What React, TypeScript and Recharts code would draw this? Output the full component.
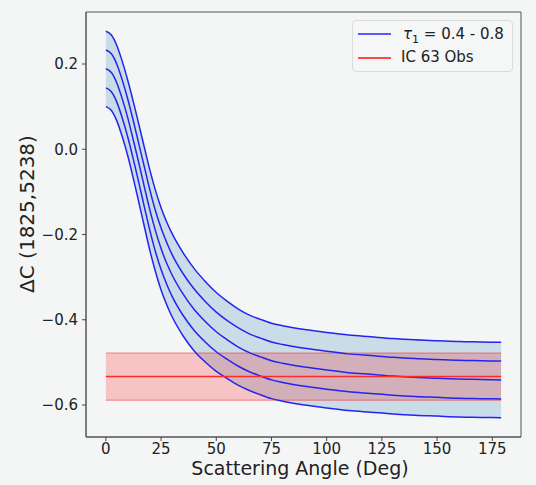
import React from "react";
import {
  ComposedChart,
  Line,
  Area,
  XAxis,
  YAxis,
  ReferenceArea,
} from "recharts";

// Scattering angle (deg)
const angles = [0, 2.5, 5, 7.5, 10, 12.5, 15, 17.5, 20, 22.5, 25, 27.5, 30, 35, 40, 45, 50, 55, 60, 65, 70, 75, 80, 90, 100, 110, 120, 130, 140, 150, 160, 170, 179];

// Model curves, tau_1 = 0.4 ... 0.8 (top to bottom)
const curve1 = [0.277, 0.268, 0.243, 0.205, 0.160, 0.110, 0.057, 0.003, -0.050, -0.097, -0.137, -0.170, -0.198, -0.243, -0.280, -0.310, -0.336, -0.357, -0.375, -0.389, -0.399, -0.408, -0.414, -0.423, -0.430, -0.436, -0.440, -0.444, -0.447, -0.449, -0.451, -0.452, -0.453];
const curve2 = [0.233, 0.224, 0.199, 0.161, 0.116, 0.065, 0.011, -0.043, -0.097, -0.145, -0.185, -0.218, -0.247, -0.292, -0.328, -0.357, -0.382, -0.402, -0.419, -0.433, -0.443, -0.452, -0.458, -0.467, -0.474, -0.480, -0.484, -0.488, -0.491, -0.493, -0.495, -0.496, -0.497];
const curve3 = [0.189, 0.180, 0.155, 0.117, 0.072, 0.020, -0.034, -0.090, -0.144, -0.192, -0.233, -0.267, -0.295, -0.340, -0.376, -0.404, -0.428, -0.447, -0.464, -0.477, -0.487, -0.496, -0.502, -0.511, -0.518, -0.524, -0.528, -0.532, -0.535, -0.537, -0.539, -0.540, -0.541];
const curve4 = [0.144, 0.135, 0.110, 0.072, 0.027, -0.025, -0.080, -0.137, -0.192, -0.241, -0.282, -0.316, -0.345, -0.390, -0.425, -0.452, -0.475, -0.493, -0.509, -0.522, -0.532, -0.541, -0.547, -0.556, -0.563, -0.569, -0.573, -0.577, -0.580, -0.582, -0.584, -0.585, -0.586];
const curve5 = [0.100, 0.091, 0.066, 0.028, -0.017, -0.070, -0.126, -0.183, -0.239, -0.288, -0.330, -0.364, -0.393, -0.438, -0.473, -0.499, -0.521, -0.538, -0.554, -0.566, -0.576, -0.585, -0.591, -0.600, -0.607, -0.613, -0.617, -0.621, -0.624, -0.626, -0.628, -0.629, -0.630];

// IC 63 observation: [low, center, high]
const obsValues = [-0.589, -0.533, -0.478];

const xTicks = [0, 25, 50, 75, 100, 125, 150, 175];
const yTicks = [-0.6, -0.4, -0.2, 0.0, 0.2];

const data = angles.map((a, i) => ({
  angle: a,
  c1: curve1[i],
  c2: curve2[i],
  c3: curve3[i],
  c4: curve4[i],
  c5: curve5[i],
  band: [curve5[i], curve1[i]],
  obsBand: [obsValues[0], obsValues[2]],
  obsLo: obsValues[0],
  obs: obsValues[1],
  obsHi: obsValues[2],
}));

const FONT = "'DejaVu Sans', sans-serif";
const BG = "#f4f5f5";
const BLUE = "#2424ee";

const fmtY = (v: number) => {
  const s = Math.abs(v).toFixed(1);
  return v < -1e-9 ? "\u2212" + s : s;
};

export default function App() {
  return (
    <div
      style={{
        position: "absolute",
        left: 0,
        top: 0,
        width: 536,
        height: 485,
        background: BG,
        fontFamily: FONT,
      }}
    >
      <ComposedChart
        width={536}
        height={485}
        data={data}
        margin={{ top: 12, right: 15, left: 0, bottom: 0 }}
      >
        <XAxis
          type="number"
          dataKey="angle"
          domain={[-9, 188]}
          ticks={xTicks}
          allowDataOverflow
          height={48}
          tickSize={4}
          tickMargin={2}
          axisLine={{ stroke: "#555" }}
          tickLine={{ stroke: "#444" }}
          tick={{ fill: "#222", fontSize: 15, fontFamily: FONT }}
        />
        <YAxis
          type="number"
          domain={[-0.675, 0.322]}
          ticks={yTicks}
          allowDataOverflow
          width={86}
          tickSize={4}
          tickMargin={4}
          tickFormatter={fmtY}
          axisLine={{ stroke: "#555" }}
          tickLine={{ stroke: "#444" }}
          tick={{ fill: "#222", fontSize: 15, fontFamily: FONT }}
        />
        <Area
          type="monotone"
          dataKey="band"
          stroke="none"
          fill="#1f77b4"
          fillOpacity={0.2}
          isAnimationActive={false}
          activeDot={false}
        />
        <Area
          type="linear"
          dataKey="obsBand"
          stroke="none"
          fill="#ff0000"
          fillOpacity={0.2}
          isAnimationActive={false}
          activeDot={false}
        />
        <Line type="linear" dataKey="obsLo" stroke="#ff0000" strokeOpacity={0.3} strokeWidth={1.5} dot={false} isAnimationActive={false} />
        <Line type="linear" dataKey="obsHi" stroke="#ff0000" strokeOpacity={0.3} strokeWidth={1.5} dot={false} isAnimationActive={false} />
        <Line type="monotone" dataKey="c1" stroke={BLUE} strokeWidth={1.5} dot={false} isAnimationActive={false} />
        <Line type="monotone" dataKey="c2" stroke={BLUE} strokeWidth={1.5} dot={false} isAnimationActive={false} />
        <Line type="monotone" dataKey="c3" stroke={BLUE} strokeWidth={1.5} dot={false} isAnimationActive={false} />
        <Line type="monotone" dataKey="c4" stroke={BLUE} strokeWidth={1.5} dot={false} isAnimationActive={false} />
        <Line type="monotone" dataKey="c5" stroke={BLUE} strokeWidth={1.5} dot={false} isAnimationActive={false} />
        <Line type="linear" dataKey="obs" stroke="#ff2a2a" strokeWidth={1.5} dot={false} isAnimationActive={false} />
        <ReferenceArea
          x1={-9}
          x2={188}
          y1={-0.675}
          y2={0.322}
          fill="none"
          stroke="#555"
          strokeWidth={1}
          ifOverflow="visible"
        />
      </ComposedChart>

      {/* Axis titles */}
      <div
        style={{
          position: "absolute",
          left: 0,
          width: 536,
          top: 456,
          paddingLeft: 70,
          boxSizing: "border-box",
          textAlign: "center",
          fontSize: 19,
          color: "#222",
          lineHeight: "24px",
          paddingRight: 0,
        }}
      >
        <span style={{ position: "relative", left: -3 }}>Scattering Angle (Deg)</span>
      </div>
      <div
        style={{
          position: "absolute",
          left: 27,
          top: 214,
          transform: "translate(-50%, -50%) rotate(-90deg)",
          whiteSpace: "nowrap",
          fontSize: 20,
          color: "#222",
          lineHeight: "24px",
        }}
      >
        ΔC (1825,5238)
      </div>

      {/* Legend */}
      <div
        style={{
          position: "absolute",
          left: 352,
          top: 20,
          width: 161,
          height: 52,
          boxSizing: "border-box",
          border: "1px solid #dcdcdc",
          borderRadius: 4,
          background: "rgba(245,246,246,0.8)",
          fontSize: 15,
          color: "#222",
        }}
      >
        <div style={{ position: "absolute", left: 5, top: 12, width: 33, height: 0, borderTop: "2px solid #5a5aff" }} />
        <div style={{ position: "absolute", left: 50, top: 3, whiteSpace: "nowrap", lineHeight: "20px" }}>
          <span style={{ fontStyle: "italic" }}>τ</span>
          <sub style={{ fontSize: 11 }}>1</sub> = 0.4 - 0.8
        </div>
        <div style={{ position: "absolute", left: 5, top: 36, width: 33, height: 0, borderTop: "2px solid #ff4a4a" }} />
        <div style={{ position: "absolute", left: 48, top: 26, whiteSpace: "nowrap", lineHeight: "20px" }}>
          IC 63 Obs
        </div>
      </div>
    </div>
  );
}
